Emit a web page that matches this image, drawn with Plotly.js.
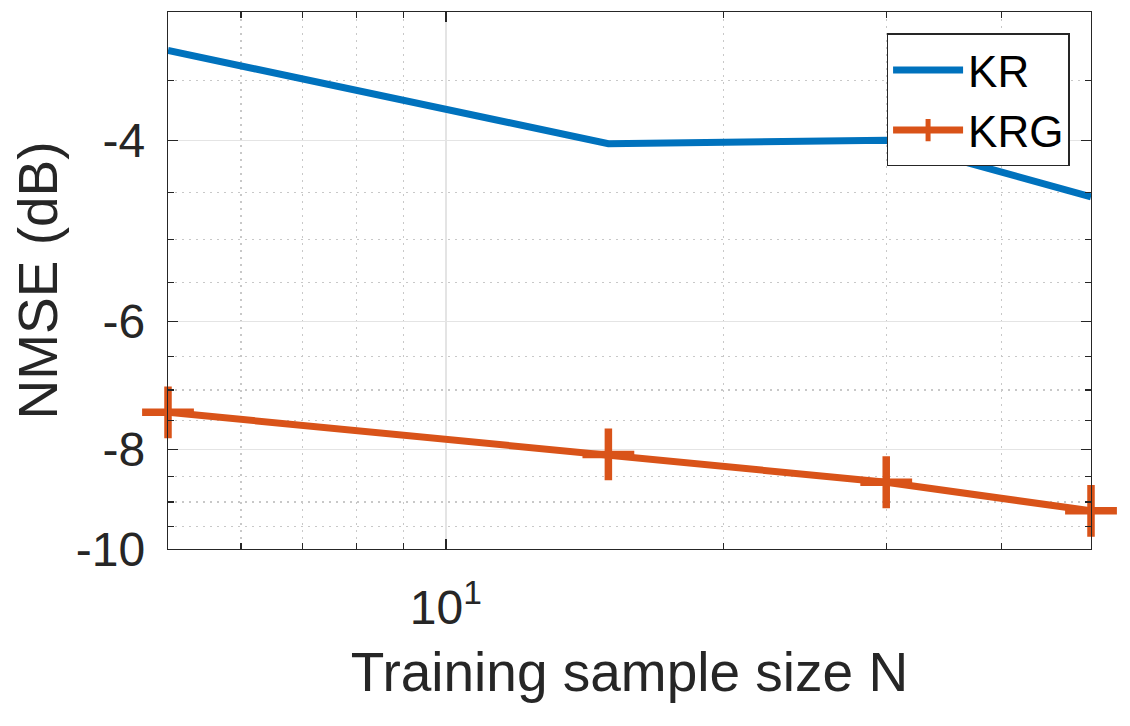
<!DOCTYPE html>
<html>
<head>
<meta charset="utf-8">
<script src="https://cdn.plot.ly/plotly-3.0.1.min.js"></script>
<style>html,body{margin:0;padding:0;background:#fff;}#chart{width:1130px;height:726px;}</style>
</head>
<body>
<div id="chart"></div>
<script>
// Data (NMSE in dB)
const sampleSizes = [5, 15, 30, 50];
const nmseKR  = [-3.27, -4.03, -4.00, -4.54];
const nmseKRG = [-7.36, -8.09, -8.61, -9.18];

// Axis ticks
const xTickVals = [10];
const xTickText = ['10<sup>1</sup>'];
const xMinorVals = [6, 7, 8, 9, 20, 30, 40];
const yTickVals = [-4, -6, -8, -10];
const yMinorVals = [-3.5, -4.5, -5, -5.5, -6.5, -7, -7.5, -8.5, -9, -9.5];
const xRange = [5, 50];
const yRange = [-10, -3];

// The reference uses a logarithmic axis of negative values: plot magnitude on a reversed log axis
const mag = v => -v;
const eps = 1e-6;

const ink = '#262626';
const font = 'Liberation Sans, Arial, Helvetica, sans-serif';

const traces = [
  {
    x: sampleSizes, y: nmseKR.map(mag), name: 'KR', type: 'scatter', mode: 'lines',
    line: {color: '#0072BD', width: 7}
  },
  {
    x: sampleSizes, y: nmseKRG.map(mag), name: 'KRG', type: 'scatter', mode: 'lines+markers',
    line: {color: '#D95319', width: 7},
    marker: {symbol: 'cross-thin', size: 37, color: '#D95319', line: {color: '#D95319', width: 7.5}},
    cliponaxis: false
  }
];

const minorCommon = {
  tickmode: 'array', ticks: 'inside', ticklen: 6, tickcolor: ink, tickwidth: 1.2,
  showgrid: true, gridcolor: '#c8c8c8', griddash: '2px,5px', gridwidth: 1.2
};

const axisCommon = {
  showline: true, linecolor: ink, linewidth: 1.3, mirror: 'allticks',
  ticks: 'inside', ticklen: 10, tickwidth: 1.3, tickcolor: ink,
  showgrid: true, gridcolor: '#e4e4e4', gridwidth: 1.3,
  zeroline: false,
  tickfont: {family: font, size: 48, color: ink}
};

const layout = {
  width: 1130, height: 726,
  margin: {l: 168, r: 39, t: 12, b: 177},
  paper_bgcolor: '#fff', plot_bgcolor: '#fff',
  showlegend: true,
  legend: {
    x: 0.977, y: 0.96, xanchor: 'right', yanchor: 'top',
    bgcolor: '#fff', bordercolor: ink, borderwidth: 1.3,
    font: {family: font, size: 44, color: '#000'},
    itemwidth: 70, tracegroupgap: 0
  },
  xaxis: Object.assign({}, axisCommon, {
    type: 'log',
    range: [Math.log10(xRange[0]) - eps, Math.log10(xRange[1]) + eps],
    tickmode: 'array', tickvals: xTickVals, ticktext: xTickText,
    ticklabelstandoff: 16,
    minor: Object.assign({tickvals: xMinorVals}, minorCommon),
    title: {text: 'Training sample size N', font: {family: font, size: 55, color: ink}, standoff: 19}
  }),
  yaxis: Object.assign({}, axisCommon, {
    type: 'log',
    range: [Math.log10(mag(yRange[0])) + eps, Math.log10(mag(yRange[1])) - eps],
    tickmode: 'array', tickvals: yTickVals.map(mag), ticktext: yTickVals.map(String),
    ticklabelstandoff: 12,
    minor: Object.assign({tickvals: yMinorVals.map(mag)}, minorCommon),
    title: {text: 'NMSE (dB)', font: {family: font, size: 55, color: ink}, standoff: 0}
  })
};

Plotly.newPlot('chart', traces, layout, {displayModeBar: false, staticPlot: true});
</script>
</body>
</html>
